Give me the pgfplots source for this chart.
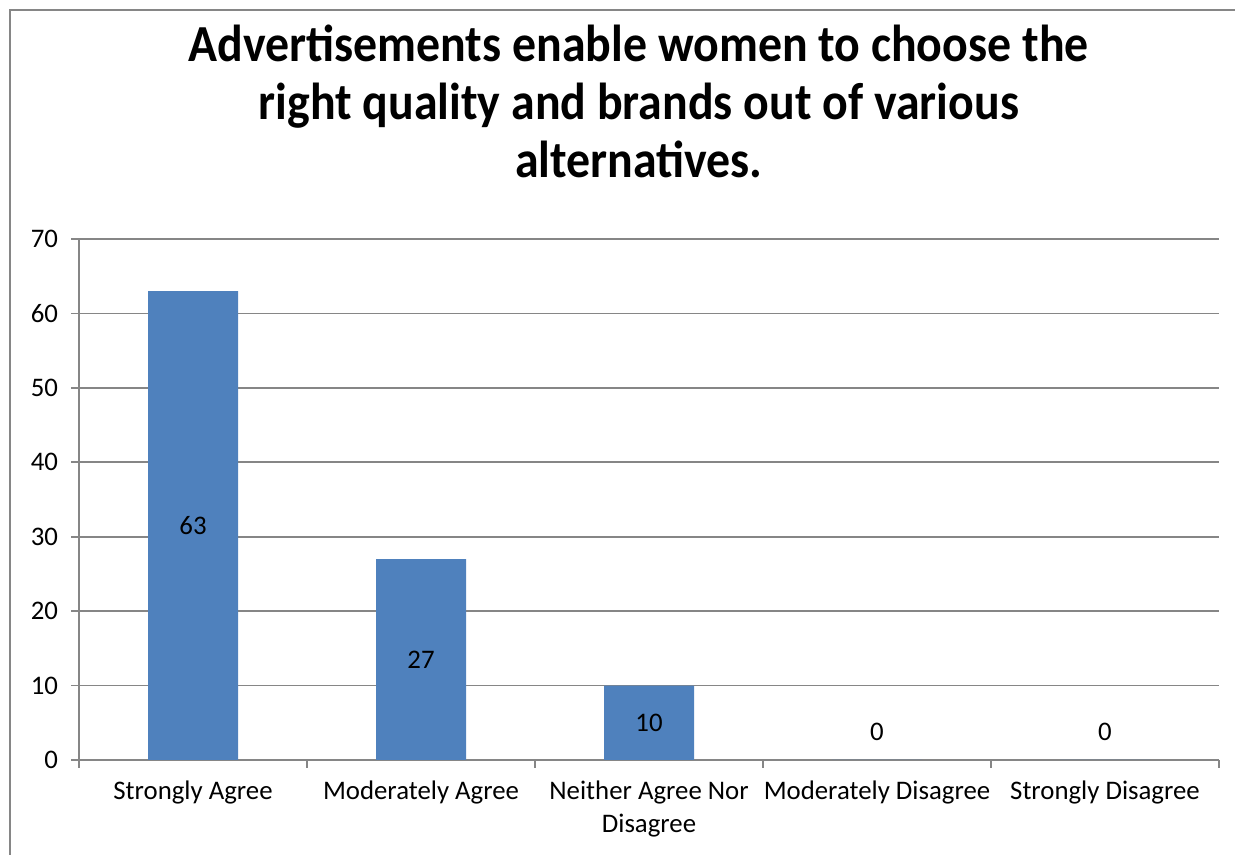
\documentclass[border=0pt]{standalone}
\usepackage{pgfplots}
\pgfplotsset{compat=1.18}
\usepackage{fontspec}
\setmainfont{Carlito}
\newfontfamily\titlefont[FakeStretch=0.92]{Carlito}
\definecolor{barblue}{HTML}{4F81BD}
\definecolor{axgray}{HTML}{868686}
\begin{document}
\begin{tikzpicture}[x=0.5pt,y=0.5pt]
\useasboundingbox (-79,-95) rectangle (1156,760);
\draw[axgray,line width=1pt] (-69,-120) -- (-69,750) -- (1200,750);
\begin{axis}[
  at={(0,0)}, anchor=south west,
  width=570pt, height=260.5pt, scale only axis,
  xmin=-0.5, xmax=4.5, ymin=0, ymax=70,
  axis x line*=bottom, axis y line*=left,
  axis line style={axgray, line width=0.8pt},
  xtick={0,1,2,3,4},
  xticklabels={Strongly Agree, Moderately Agree, {Neither Agree Nor\\Disagree}, Moderately Disagree, Strongly Disagree},
  major x tick style={draw=none},
  minor xtick={-0.5,0.5,1.5,2.5,3.5,4.5},
  minor x tick style={axgray, line width=0.8pt},
  minor tick length=4pt,
  ytick={0,10,...,70},
  ytick style={axgray, line width=0.8pt},
  major tick length=4pt,
  tick align=outside,
  ymajorgrids, grid style={axgray, line width=0.8pt},
  x tick label style={font=\fontsize{13.4}{16.5}\selectfont, align=center, yshift=-3pt},
  y tick label style={font=\fontsize{13.4}{15}\selectfont, xshift=-3pt},
  /pgf/number format/assume math mode=true,
  title={Advertisements enable women to choose the\\ right quality and brands out of various\\ alternatives.},
  title style={font=\titlefont\bfseries\fontsize{26}{29}\selectfont, align=center, at={(0.491,1)}, anchor=south, yshift=21pt},
  clip=false,
]
\addplot[ybar, bar width=45pt, fill=barblue, draw=none] coordinates {(0,63) (1,27) (2,10) (3,0) (4,0)};
\addplot[only marks, mark=none, nodes near coords, point meta=explicit symbolic,
  every node near coord/.style={font=\fontsize{13.4}{15}\selectfont, anchor=center}]
  coordinates {(0,31.5)[63] (1,13.5)[27] (2,5)[10] (3,3.8)[0] (4,3.8)[0]};
\end{axis}
\end{tikzpicture}
\end{document}
